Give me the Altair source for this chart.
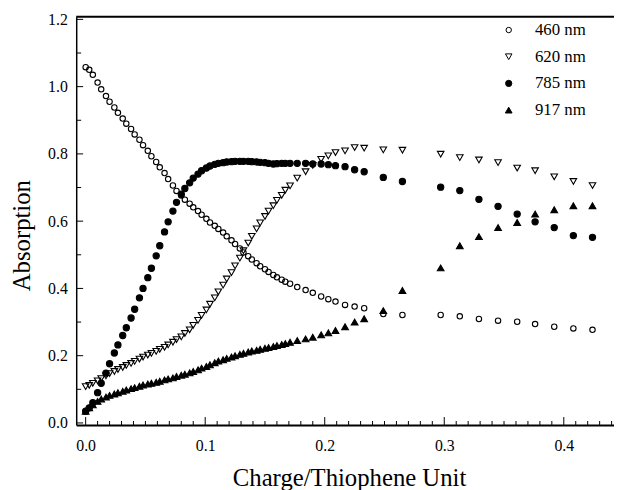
import altair as alt
import pandas as pd

series_names = ["460 nm", "620 nm", "785 nm", "917 nm"]

# Charge/Thiophene unit, densely sampled part
x_dense = [0.000, 0.003, 0.006, 0.010, 0.013, 0.017, 0.020, 0.024, 0.027, 0.031,
           0.034, 0.038, 0.041, 0.045, 0.048, 0.052, 0.055, 0.059, 0.062, 0.066,
           0.069, 0.073, 0.076, 0.080, 0.083, 0.087, 0.090, 0.094, 0.097, 0.101,
           0.104, 0.108, 0.111, 0.115, 0.118, 0.122, 0.125, 0.129, 0.132, 0.136,
           0.139, 0.143, 0.146, 0.150, 0.153, 0.157, 0.160, 0.164, 0.167, 0.171]

y460_dense = [1.058, 1.050, 1.035, 1.012, 0.992, 0.972, 0.955, 0.938, 0.922, 0.905,
              0.890, 0.874, 0.858, 0.842, 0.826, 0.809, 0.793, 0.776, 0.760, 0.743,
              0.725, 0.706, 0.690, 0.676, 0.664, 0.652, 0.641, 0.630, 0.619, 0.607,
              0.596, 0.586, 0.577, 0.566, 0.555, 0.543, 0.532, 0.519, 0.507, 0.496,
              0.486, 0.475, 0.466, 0.457, 0.449, 0.440, 0.433, 0.426, 0.420, 0.414]

y620_dense = [0.108, 0.112, 0.118, 0.125, 0.132, 0.140, 0.147, 0.153, 0.159, 0.165,
              0.171, 0.177, 0.183, 0.190, 0.196, 0.202, 0.207, 0.213, 0.219, 0.225,
              0.232, 0.240, 0.248, 0.256, 0.266, 0.277, 0.290, 0.305, 0.320, 0.336,
              0.353, 0.372, 0.390, 0.410, 0.428, 0.447, 0.467, 0.490, 0.512, 0.535,
              0.555, 0.577, 0.595, 0.614, 0.630, 0.646, 0.662, 0.677, 0.692, 0.705]

y785_dense = [0.035, 0.045, 0.060, 0.090, 0.118, 0.148, 0.176, 0.208, 0.232, 0.260,
              0.283, 0.312, 0.338, 0.372, 0.400, 0.432, 0.460, 0.497, 0.527, 0.568,
              0.598, 0.630, 0.656, 0.680, 0.697, 0.714, 0.728, 0.740, 0.750, 0.758,
              0.764, 0.769, 0.772, 0.774, 0.776, 0.777, 0.778, 0.778, 0.778, 0.778,
              0.777, 0.776, 0.775, 0.774, 0.772, 0.770, 0.771, 0.772, 0.772, 0.772]

y917_dense = [0.035, 0.045, 0.054, 0.064, 0.071, 0.077, 0.082, 0.086, 0.090, 0.094,
              0.098, 0.102, 0.105, 0.109, 0.113, 0.116, 0.118, 0.121, 0.124, 0.128,
              0.131, 0.134, 0.138, 0.142, 0.145, 0.149, 0.153, 0.158, 0.163, 0.168,
              0.173, 0.179, 0.184, 0.188, 0.192, 0.196, 0.200, 0.204, 0.207, 0.211,
              0.214, 0.216, 0.219, 0.222, 0.224, 0.227, 0.230, 0.233, 0.236, 0.240]

# sparsely sampled part
x_sparse = [0.177, 0.184, 0.190, 0.197, 0.203, 0.209, 0.217, 0.225, 0.233, 0.249,
            0.265, 0.297, 0.313, 0.329, 0.345, 0.361, 0.376, 0.392, 0.408, 0.424]

y460_sparse = [0.404, 0.395, 0.387, 0.376, 0.368, 0.361, 0.351, 0.346, 0.341, 0.324,
               0.321, 0.321, 0.317, 0.309, 0.304, 0.301, 0.294, 0.286, 0.281, 0.277]
y620_sparse = [0.728, 0.747, 0.766, 0.784, 0.794, 0.804, 0.809, 0.819, 0.817, 0.812,
               0.811, 0.799, 0.789, 0.782, 0.774, 0.758, 0.750, 0.732, 0.718, 0.706]
y785_sparse = [0.772, 0.772, 0.770, 0.770, 0.768, 0.765, 0.762, 0.753, 0.747, 0.730,
               0.718, 0.701, 0.691, 0.665, 0.644, 0.621, 0.598, 0.581, 0.557, 0.552]
y917_sparse = [0.245, 0.250, 0.255, 0.262, 0.268, 0.275, 0.286, 0.300, 0.310, 0.334,
               0.394, 0.461, 0.527, 0.554, 0.581, 0.596, 0.621, 0.634, 0.646, 0.646]

# axis tick positions
x_label_ticks = [0.0, 0.1, 0.2, 0.3, 0.4]
x_minor_ticks = [0.01, 0.02, 0.03, 0.04, 0.05, 0.06, 0.07, 0.08, 0.09,
                 0.11, 0.12, 0.13, 0.14, 0.15, 0.16, 0.17, 0.18, 0.19,
                 0.21, 0.22, 0.23, 0.24, 0.25, 0.26, 0.27, 0.28, 0.29,
                 0.31, 0.32, 0.33, 0.34, 0.35, 0.36, 0.37, 0.38, 0.39,
                 0.41, 0.42, 0.43, 0.44]
y_label_ticks = [0.0, 0.2, 0.4, 0.6, 0.8, 1.0, 1.2]
y_minor_ticks = [0.1, 0.3, 0.5, 0.7, 0.9, 1.1]

shapes = ["circle", "triangle-down", "circle", "triangle-up"]
fills = ["transparent", "transparent", "black", "black"]
strokes = ["black", "black", "black", "black"]
sizes = [30, 44, 40, 46]

rows = []
dense = [y460_dense, y620_dense, y785_dense, y917_dense]
sparse = [y460_sparse, y620_sparse, y785_sparse, y917_sparse]
for name, yd, ys in zip(series_names, dense, sparse):
    for xv, yv in zip(x_dense + x_sparse, yd + ys):
        rows.append({"q": xv, "a": yv, "s": name})
df = pd.DataFrame(rows)

W, H = 544, 413
FONT = "Liberation Serif"
xscale = alt.Scale(domain=[-0.0079, 0.442], nice=False, zero=False)
yscale = alt.Scale(domain=[-0.006, 1.208], nice=False, zero=False)

x_axis = alt.Axis(values=x_label_ticks, format=".1f", ticks=False, tickSize=0,
                  domain=True, domainColor="black", domainWidth=2, grid=False,
                  labelFont=FONT, labelFontSize=16, labelColor="black",
                  labelPadding=13, labelFlush=False,
                  title="Charge/Thiophene Unit", titleFont=FONT, titleFontSize=25,
                  titleFontWeight="normal", titleColor="black",
                  titleX=276, titleY=61, titleBaseline="alphabetic", titleAlign="center")
y_axis = alt.Axis(values=y_label_ticks, format=".1f", ticks=False, tickSize=0,
                  domain=True, domainColor="black", domainWidth=1.5, grid=False,
                  labelFont=FONT, labelFontSize=16, labelColor="black",
                  labelPadding=9, labelFlush=False,
                  title="Absorption", titleFont=FONT, titleFontSize=25,
                  titleFontWeight="normal", titleColor="black", titleAngle=270,
                  titleX=-47, titleY=221, titleBaseline="alphabetic", titleAlign="center")

legend = alt.Legend(title=None, orient="none", legendX=429, legendY=5, padding=0,
                    labelFont=FONT, labelFontSize=17, labelColor="black",
                    labelOffset=18, rowPadding=9, symbolStrokeColor="black",
                    symbolStrokeWidth=1)

points = alt.Chart(df).mark_point(filled=True, strokeWidth=1.1, opacity=1).encode(
    x=alt.X("q:Q", scale=xscale, axis=x_axis),
    y=alt.Y("a:Q", scale=yscale, axis=y_axis),
    shape=alt.Shape("s:N", scale=alt.Scale(domain=series_names, range=shapes), legend=legend),
    fill=alt.Fill("s:N", scale=alt.Scale(domain=series_names, range=fills), legend=legend),
    stroke=alt.Stroke("s:N", scale=alt.Scale(domain=series_names, range=strokes), legend=legend),
    size=alt.Size("s:N", scale=alt.Scale(type="ordinal", domain=series_names, range=sizes), legend=legend),
)

xmajor = alt.Chart(pd.DataFrame({"q": x_label_ticks})).mark_rule(color="black", strokeWidth=1).encode(
    x=alt.X("q:Q", scale=xscale), y=alt.value(H), y2=alt.value(H - 8))
xminor = alt.Chart(pd.DataFrame({"q": x_minor_ticks})).mark_rule(color="black", strokeWidth=1).encode(
    x=alt.X("q:Q", scale=xscale), y=alt.value(H), y2=alt.value(H - 4))
ymajor = alt.Chart(pd.DataFrame({"a": y_label_ticks})).mark_rule(color="black", strokeWidth=1).encode(
    y=alt.Y("a:Q", scale=yscale), x=alt.value(0), x2=alt.value(7))
yminor = alt.Chart(pd.DataFrame({"a": y_minor_ticks})).mark_rule(color="black", strokeWidth=1).encode(
    y=alt.Y("a:Q", scale=yscale), x=alt.value(0), x2=alt.value(5))
top = alt.Chart(pd.DataFrame({"a": [0]})).mark_rule(color="black", strokeWidth=2).encode(
    x=alt.value(0), x2=alt.value(W), y=alt.value(0))

chart = alt.layer(xminor, xmajor, yminor, ymajor, top, points).properties(
    width=W, height=H,
    autosize=alt.AutoSizeParams(type="none"),
    padding={"left": 69, "top": 6, "right": 0, "bottom": 63},
).configure_view(stroke="transparent")

chart.save("out.html", embed_options={"renderer": "svg", "actions": False})
